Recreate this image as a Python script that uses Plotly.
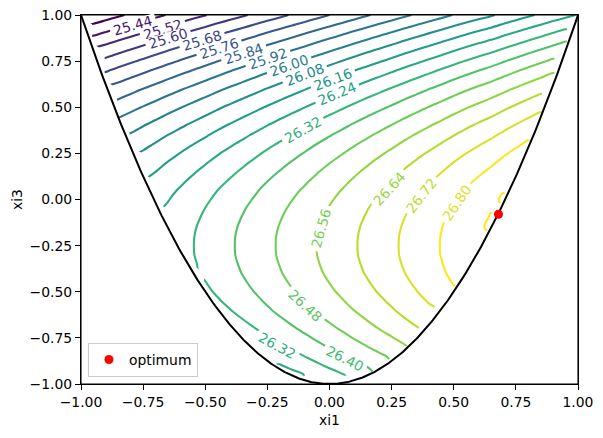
import numpy as np
import plotly.graph_objects as go
from plotly.colors import sample_colorscale

# ---------------- data ----------------
# grid of the design space (lamination parameters)
xi1_grid = np.linspace(-1, 1, 41)
xi3_grid = np.linspace(-1, 1, 41)

xi3_profile = [26.248, 26.291, 26.332, 26.369, 26.404, 26.435, 26.464, 26.489, 26.512, 26.531,
               26.548, 26.561, 26.572, 26.579, 26.584, 26.585, 26.584, 26.580, 26.573, 26.564,
               26.552, 26.538, 26.520, 26.500, 26.478, 26.453, 26.425, 26.395, 26.362, 26.326,
               26.288, 26.247, 26.204, 26.157, 26.109, 26.057, 26.003, 25.946, 25.887, 25.825,
               25.760]
# objective change along xi1 (xi1 = -1.00 ... 1.00, step 0.05)
xi1_effect = [-0.485, -0.461, -0.437, -0.412, -0.388, -0.364, -0.340, -0.315, -0.291, -0.267,
              -0.243, -0.218, -0.194, -0.170, -0.146, -0.121, -0.097, -0.073, -0.049, -0.024,
              0.000, 0.024, 0.049, 0.073, 0.097, 0.121, 0.146, 0.170, 0.194, 0.218,
              0.243, 0.267, 0.290, 0.312, 0.338, 0.363, 0.388, 0.412, 0.437, 0.461,
              0.485]

level_start, level_end, level_step = 25.36, 26.88, 0.08

# inline contour labels (level and where it sits on its line)
label_levels = [25.44, 25.52, 25.60, 25.68, 25.76, 25.84, 25.92, 26.00, 26.08, 26.16,
                26.24, 26.32, 26.56, 26.64, 26.72, 26.80, 26.48, 26.40, 26.32]
label_xi1 = [-0.792, -0.671, -0.650, -0.514, -0.445, -0.344, -0.246, -0.163, -0.099, 0.013,
             0.031, -0.105, -0.035, 0.241, 0.371, 0.514, -0.099, 0.062, -0.212]
label_xi3 = [0.942, 0.919, 0.875, 0.864, 0.821, 0.789, 0.763, 0.729, 0.675, 0.651,
             0.576, 0.379, -0.156, 0.061, 0.019, -0.017, -0.577, -0.861, -0.794]

optimum_xi1 = [0.68]
optimum_xi3 = [-0.08]

axis_ticks = [-1.0, -0.75, -0.5, -0.25, 0.0, 0.25, 0.5, 0.75, 1.0]

# ---------------- build surface (masked outside feasible region) ----------------
Z = []
for j, y in enumerate(xi3_grid):
    row = []
    for i, x in enumerate(xi1_grid):
        if y >= 2 * x * x - 1 - 1e-9:
            row.append(xi3_profile[j] + xi1_effect[i])
        else:
            row.append(None)
    Z.append(row)

# feasibility boundary xi3 = 2*xi1^2 - 1
xb = np.linspace(-1, 1, 401)
yb = 2 * xb ** 2 - 1

FONT = "DejaVu Sans"
FS = 13.9
# page body has an 8px margin; compensate so the axes land at 81..578 x 15..384
L, R, T, B = 73, 33, 7, 62
W, H = 603, 438
sx = (W - L - R) / 2.0
sy = (H - T - B) / 2.0

fig = go.Figure()
fig.add_trace(go.Contour(
    x=xi1_grid, y=xi3_grid, z=Z,
    connectgaps=False,
    colorscale="Viridis", zmin=level_start, zmax=level_end,
    showscale=False,
    contours=dict(coloring="lines", start=level_start, end=level_end, size=level_step,
                  showlabels=False),
    line=dict(width=2.1, smoothing=0.8),
    hoverinfo="skip", showlegend=False,
))
fig.add_trace(go.Scatter(x=xb, y=yb, mode="lines", line=dict(color="black", width=2),
                         showlegend=False, hoverinfo="skip"))
fig.add_trace(go.Scatter(x=optimum_xi1, y=optimum_xi3, mode="markers", name="optimum",
                         marker=dict(color="red", size=9, symbol="circle")))

# contour labels, rotated along the local contour direction
dfdx = np.gradient(np.array(xi1_effect), xi1_grid)
dfdy = np.gradient(np.array(xi3_profile), xi3_grid)
annotations = []
for lev, lx, ly in zip(label_levels, label_xi1, label_xi3):
    fx = float(np.interp(lx, xi1_grid, dfdx))
    fy = float(np.interp(ly, xi3_grid, dfdy))
    ang = np.degrees(np.arctan2(-fx * sy, -fy * sx))
    if ang > 90:
        ang -= 180
    elif ang <= -90:
        ang += 180
    col = sample_colorscale("Viridis", [(lev - level_start) / (level_end - level_start)])[0]
    annotations.append(dict(
        x=lx, y=ly, xref="x", yref="y", text=f"{lev:.2f}", showarrow=False,
        textangle=float(ang), xanchor="center", yanchor="middle",
        font=dict(family=FONT, size=FS, color=col),
        bgcolor="white", borderpad=0, width=46, height=11,
    ))

axis_common = dict(range=[-1, 1], tickvals=axis_ticks, tickformat=".2f",
                   showline=True, mirror=True, linecolor="black", linewidth=1.1,
                   ticks="outside", ticklen=5, tickwidth=1.1, tickcolor="black",
                   showgrid=False, zeroline=False, automargin=False,
                   ticklabeloverflow="allow",
                   tickfont=dict(family=FONT, size=FS, color="black"))

fig.update_layout(
    width=W, height=H,
    margin=dict(l=L, r=R, t=T, b=B),
    paper_bgcolor="white", plot_bgcolor="white",
    font=dict(family=FONT, size=FS, color="black"),
    xaxis=dict(title=dict(text="xi1", font=dict(family=FONT, size=FS, color="black"), standoff=6),
               **axis_common),
    yaxis=dict(title=dict(text="xi3", font=dict(family=FONT, size=FS, color="black"), standoff=3),
               **axis_common),
    legend=dict(x=0.014, y=0.019, xanchor="left", yanchor="bottom",
                bgcolor="rgba(255,255,255,0.8)", bordercolor="#cccccc", borderwidth=1,
                font=dict(family=FONT, size=FS, color="black")),
    showlegend=True,
    annotations=annotations,
    shapes=[dict(type="rect", xref="paper", yref="paper", x0=0, x1=1, y0=0, y1=1,
                 line=dict(color="black", width=1.1), layer="above")],
)

fig.write_html("out.html")
